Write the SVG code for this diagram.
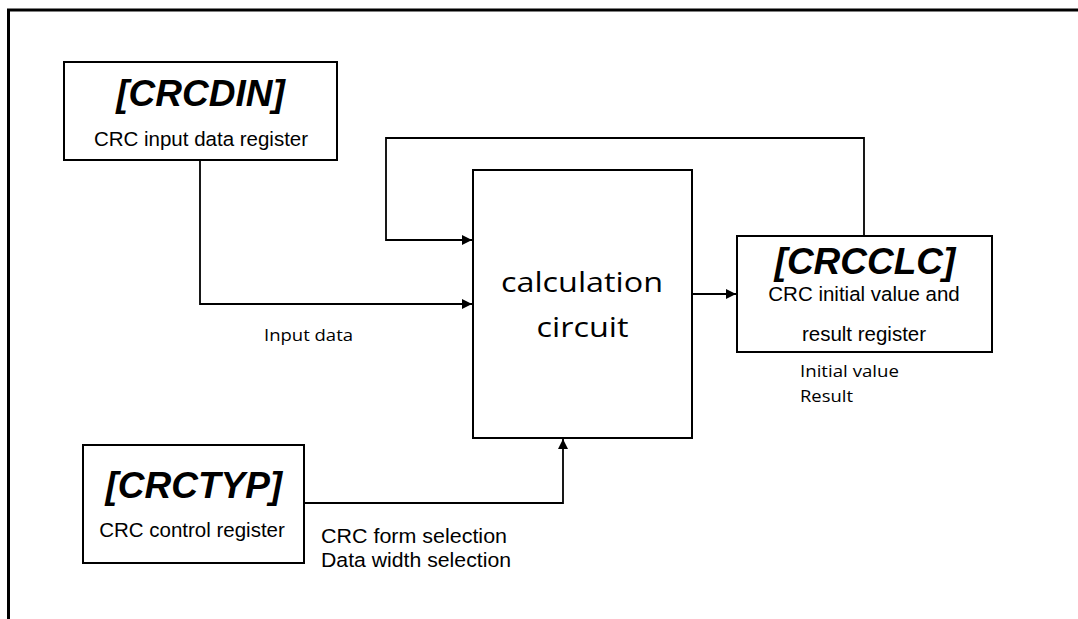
<svg xmlns="http://www.w3.org/2000/svg" width="1078" height="619" viewBox="0 0 1078 619">
<style>
.box{fill:#fff;stroke:#000;stroke-width:2}
.ttl{font-family:"Liberation Sans",Arial,sans-serif;font-weight:bold;font-style:italic;font-size:37px;fill:#000;text-anchor:middle}
.sub{font-family:"Liberation Sans",Arial,sans-serif;font-size:20.5px;fill:#000;text-anchor:middle}
.lbl{font-family:"Liberation Sans",Arial,sans-serif;font-size:20.5px;fill:#000}
.cal{font-family:"Open Sans","Noto Sans",sans-serif;fill:#000}
.wire{fill:none;stroke:#000;stroke-width:1.8}
</style>
<defs>
<marker id="ah" viewBox="0 0 10 10" refX="10" refY="5" markerWidth="10" markerHeight="10" markerUnits="userSpaceOnUse" orient="auto">
<path d="M0,0 L10,5 L0,10 Z" fill="#000"/>
</marker>
</defs>
<rect width="1078" height="619" fill="#fff"/>
<path d="M8.5,619 V10 H1078" fill="none" stroke="#000" stroke-width="3"/>

<g id="connectors">
<path class="wire" d="M200,160 V304 H472" marker-end="url(#ah)"/>
<path class="wire" d="M864,236 V138 H386 V240 H472" marker-end="url(#ah)"/>
<path class="wire" d="M692,294 H736" marker-end="url(#ah)"/>
<path class="wire" d="M304,503 H563 V439" marker-end="url(#ah)"/>
</g>

<g id="crcdin">
<rect class="box" x="64" y="62" width="273" height="98"/>
<text class="ttl" x="200.5" y="106">[CRCDIN]</text>
<text class="sub" x="201" y="145.5">CRC input data register</text>
</g>

<g id="calc">
<rect class="box" x="473" y="170" width="219" height="268"/>
<text class="cal" x="501" y="292" font-size="27" textLength="162" lengthAdjust="spacingAndGlyphs">calculation</text>
<text class="cal" x="536.5" y="337" font-size="27" textLength="92" lengthAdjust="spacingAndGlyphs">circuit</text>
</g>

<g id="crcclc">
<rect class="box" x="737" y="236" width="255" height="116"/>
<text class="ttl" x="865" y="274">[CRCCLC]</text>
<text class="sub" x="864" y="300.5">CRC initial value and</text>
<text class="sub" x="864" y="340.5">result register</text>
</g>

<g id="crctyp">
<rect class="box" x="83" y="445" width="221" height="118"/>
<text class="ttl" x="193.8" y="498">[CRCTYP]</text>
<text class="sub" x="192" y="536.5">CRC control register</text>
</g>

<g id="labels">
<text class="cal" x="264" y="341" font-size="16" textLength="89" lengthAdjust="spacingAndGlyphs">Input data</text>
<text class="cal" x="800" y="377" font-size="17" textLength="99" lengthAdjust="spacingAndGlyphs">Initial value</text>
<text class="cal" x="800" y="402" font-size="17" textLength="53" lengthAdjust="spacingAndGlyphs">Result</text>
<text class="lbl" x="321" y="542.5" textLength="186" lengthAdjust="spacingAndGlyphs">CRC form selection</text>
<text class="lbl" x="321" y="566.5" textLength="190" lengthAdjust="spacingAndGlyphs">Data width selection</text>
</g>
</svg>
